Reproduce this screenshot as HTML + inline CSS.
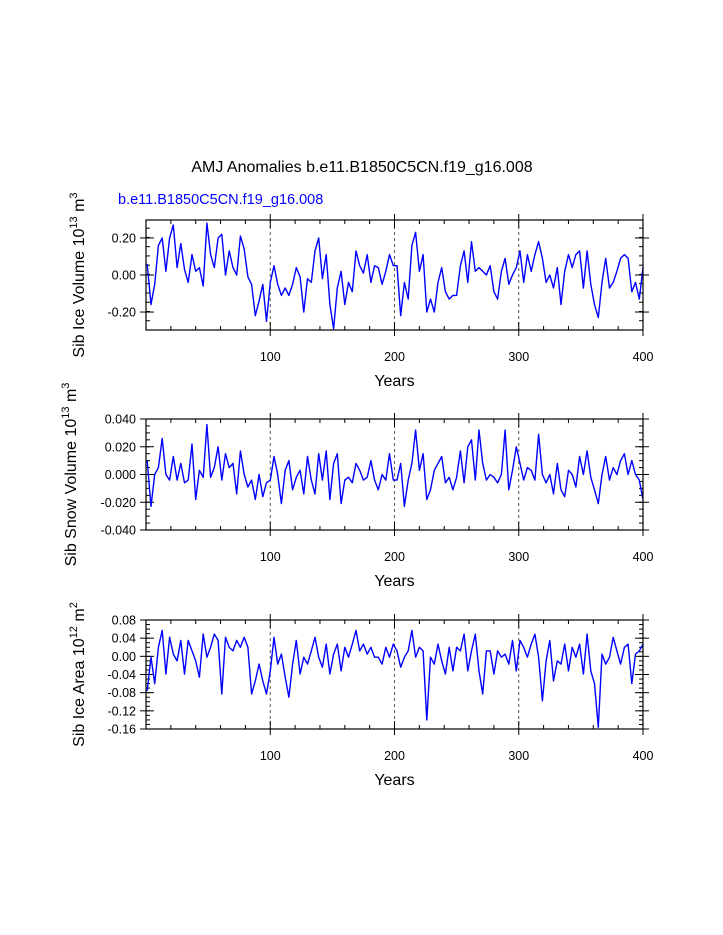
<!DOCTYPE html>
<html><head><meta charset="utf-8"><style>
html,body{margin:0;padding:0;background:#fff;}
svg{display:block;font-family:"Liberation Sans",Arial,sans-serif;}
</style></head><body>
<svg id="chart" width="723" height="935" viewBox="0 0 723 935" xmlns="http://www.w3.org/2000/svg">
<text x="362" y="172" font-size="16" text-anchor="middle">AMJ Anomalies b.e11.B1850C5CN.f19_g16.008</text>
<text x="118" y="204" font-size="14.5" fill="#0000ff">b.e11.B1850C5CN.f19_g16.008</text>
</svg>
<script>
const iceVol = [0.06,-0.16,-0.05,0.16,0.2,0.02,0.2,0.27,0.04,0.17,0.03,-0.04,0.11,0.02,0.04,-0.06,0.28,0.11,0.04,0.2,0.22,0,0.13,0.04,0,0.21,0.14,-0.01,-0.05,-0.22,-0.14,-0.05,-0.25,-0.04,
0.05,-0.05,-0.11,-0.07,-0.11,-0.05,0.04,-0.01,-0.2,-0.02,-0.04,0.13,0.2,-0.02,0.11,-0.16,-0.29,-0.07,0.02,-0.16,-0.04,-0.09,0.13,0.05,0.01,0.11,-0.04,0.05,0.04,-0.05,0.02,0.11,0.05,
0.05,-0.22,-0.04,-0.13,0.16,0.23,0.02,0.11,-0.2,-0.13,-0.2,-0.04,0.04,-0.09,-0.13,-0.11,-0.11,0.05,0.13,-0.04,0.18,0.02,0.04,0.02,0,0.05,-0.09,-0.13,0.02,0.09,-0.05,0,0.04,0.13,-0.04,0.11,0.02,0.11,0.18,0.09,-0.04,0,-0.07,0.04,-0.16,0.02,0.11,0.04,0.11,0.13,-0.07,0.13,-0.05,-0.16,-0.23,-0.04,0.09,-0.07,-0.04,0.02,0.09,0.11,0.09,-0.09,-0.04,-0.13,0.04];
const snowVol = [0.01,-0.023,0,0.005,0.026,0,-0.004,0.013,-0.004,0.008,-0.006,-0.004,0.022,-0.018,0.003,-0.002,0.036,-0.002,0.005,0.02,-0.004,0.015,0.005,0.008,-0.014,0.017,0,-0.009,-0.004,-0.018,0,-0.016,-0.006,-0.004,
0.013,0,-0.021,0.003,0.01,-0.011,-0.002,0.003,-0.014,0.013,-0.004,-0.014,0.015,-0.004,0.017,-0.018,0.008,0.015,-0.021,-0.004,-0.002,-0.006,0.008,0.003,-0.004,-0.002,0.01,-0.004,-0.011,0,-0.004,0.015,-0.004,
-0.004,0.008,-0.023,-0.004,0.008,0.032,0.003,0.015,-0.018,-0.011,0.003,0.008,0.013,-0.006,-0.002,-0.011,-0.002,0.017,-0.006,0.02,0.025,-0.004,0.032,0.008,-0.004,0,-0.002,-0.006,0,0.032,-0.011,0.003,0.02,0.008,-0.004,0.005,0.003,-0.004,0.029,0,-0.006,0,-0.014,0.008,-0.011,-0.016,0.003,0,-0.009,0.013,0,0.017,-0.002,-0.011,-0.021,0,0.013,-0.004,0.005,0,0.01,0.015,0,0.01,0,-0.004,-0.018];
const iceArea = [-0.076,-0.002,-0.06,0.02,0.057,-0.039,0.042,0.005,-0.01,0.035,-0.039,0.035,0.012,-0.01,-0.046,0.049,-0.002,0.02,0.049,0.035,-0.083,0.042,0.02,0.012,0.035,0.02,0.042,0.02,-0.083,-0.054,-0.017,-0.054,-0.083,-0.032,
0.042,-0.017,0.005,-0.046,-0.09,-0.017,0.035,-0.039,-0.002,-0.017,0.012,0.042,-0.002,-0.024,0.027,-0.039,0.005,0.027,-0.032,0.02,-0.002,0.027,0.057,0.012,0.027,0.005,0.02,-0.002,-0.002,-0.017,0.02,-0.002,0.027,
0.012,-0.024,-0.002,0.012,0.057,-0.002,0.02,0.012,-0.14,-0.002,-0.017,0.027,-0.01,-0.039,0.02,-0.032,0.02,0.012,0.049,-0.032,0.012,0.049,-0.032,-0.083,0.012,0.012,-0.039,0.012,-0.002,0.005,-0.017,0.035,-0.032,0.035,0.02,-0.002,0.027,0.049,-0.002,-0.098,-0.01,0.035,-0.054,-0.01,-0.017,0.027,-0.032,0.02,-0.002,0.027,-0.039,0.049,-0.032,-0.06,-0.156,0.005,-0.017,-0.002,0.042,0.012,-0.017,0.02,0.027,-0.06,0.005,0.012,0.027];
const years = iceVol.map((v,i)=>i*3+1);
const xTicks = [100,200,300,400];
const p1Ticks = [-0.2,0,0.2], p1Labels = ["-0.20","0.00","0.20"];
const p2Ticks = [-0.04,-0.02,0,0.02,0.04], p2Labels = ["-0.040","-0.020","0.000","0.020","0.040"];
const p3Ticks = [-0.16,-0.12,-0.08,-0.04,0,0.04,0.08], p3Labels = ["-0.16","-0.12","-0.08","-0.04","0.00","0.04","0.08"];

const NS="http://www.w3.org/2000/svg";
const svg=document.getElementById('chart');
function mk(tag,attrs,parent){const e=document.createElementNS(NS,tag);for(const k in attrs)e.setAttribute(k,attrs[k]);(parent||svg).appendChild(e);return e;}

function panel(cfg){
  const L=146,R=643,T=cfg.top,B=cfg.bottom;
  const g=mk('g',{});
  
  
  const xs=v=>L+(v-0)/(400-0)*(R-L);
  const ys=v=>B-(v-cfg.ymin)/(cfg.ymax-cfg.ymin)*(B-T);
  [100,200,300].forEach(v=>{
    const l=mk('line',{x1:xs(v),x2:xs(v),y1:T,y2:B,stroke:'#555','stroke-width':1,'stroke-dasharray':'3,3'},g);
    
    
  });
  for(let v=20;v<400;v+=20){
    const major=v%100===0;
    const len=major?8:4;
    mk('line',{x1:xs(v),x2:xs(v),y1:T,y2:T+len,stroke:'#000','stroke-width':1},g);
    mk('line',{x1:xs(v),x2:xs(v),y1:B,y2:B-len,stroke:'#000','stroke-width':1},g);
  }
  xTicks.forEach(v=>{
    mk('line',{x1:xs(v),x2:xs(v),y1:B,y2:B+6,stroke:'#000','stroke-width':1},g);
    mk('line',{x1:xs(v),x2:xs(v),y1:T,y2:T-6,stroke:'#000','stroke-width':1},g);
    const t=mk('text',{x:xs(v),y:B+31,'font-size':12.5,'text-anchor':'middle'},g);
    t.textContent=v;
    
    
  });
  for(let v=cfg.ymin;v<=cfg.ymax+1e-9;v+=cfg.minor){
    const y=ys(v);
    if(y<T-0.5||y>B+0.5)continue;
    mk('line',{x1:L,x2:L+4,y1:y,y2:y,stroke:'#000','stroke-width':1},g);
    mk('line',{x1:R,x2:R-4,y1:y,y2:y,stroke:'#000','stroke-width':1},g);
  }
  cfg.ticks.forEach((v,i)=>{
    const y=ys(v);
    mk('line',{x1:L-6,x2:L+8,y1:y,y2:y,stroke:'#000','stroke-width':1},g);
    mk('line',{x1:R+6,x2:R-8,y1:y,y2:y,stroke:'#000','stroke-width':1},g);
    const t=mk('text',{x:L-10,y:y+4.5,'font-size':12.5,'text-anchor':'end'},g);
    t.textContent=cfg.labels[i];
    
    
  });
  const pts=cfg.data.map((v,i)=>xs(years[i]).toFixed(1)+','+ys(v).toFixed(1)).join(' ');
  const pl=mk('polyline',{points:pts,fill:'none',stroke:'#0000ff','stroke-width':1.4,'stroke-linejoin':'round'},g);
  
  
  const fr=mk('rect',{x:L,y:T,width:R-L,height:B-T,fill:'none',stroke:'#000','stroke-width':1.2},g);
  
  
  const xt=mk('text',{x:(L+R)/2,y:B+56,'font-size':16,'text-anchor':'middle'},g);
  xt.textContent='Years';
  
  
  const yt=mk('text',{x:0,y:0,'font-size':16,'text-anchor':'middle',transform:'translate('+cfg.ytx+','+((T+B)/2)+') rotate(-90)'},g);
  
  
  yt.innerHTML=cfg.ytitle;
}

panel({name:'ice-volume-panel',top:220,bottom:330,ymin:-0.297,ymax:0.297,minor:0.05,ticks:p1Ticks,labels:p1Labels,data:iceVol,ytx:84,
  ytitle:'Sib Ice Volume 10<tspan font-size="11" dy="-7">13</tspan><tspan dy="7"> m</tspan><tspan font-size="11" dy="-7">3</tspan>'});
panel({name:'snow-volume-panel',top:419,bottom:530,ymin:-0.04,ymax:0.04,minor:0.005,ticks:p2Ticks,labels:p2Labels,data:snowVol,ytx:76,
  ytitle:'Sib Snow Volume 10<tspan font-size="11" dy="-7">13</tspan><tspan dy="7"> m</tspan><tspan font-size="11" dy="-7">3</tspan>'});
panel({name:'ice-area-panel',top:620,bottom:729,ymin:-0.16,ymax:0.08,minor:0.01,ticks:p3Ticks,labels:p3Labels,data:iceArea,ytx:84,
  ytitle:'Sib Ice Area 10<tspan font-size="11" dy="-7">12</tspan><tspan dy="7"> m</tspan><tspan font-size="11" dy="-7">2</tspan>'});
</script>
</body></html>
